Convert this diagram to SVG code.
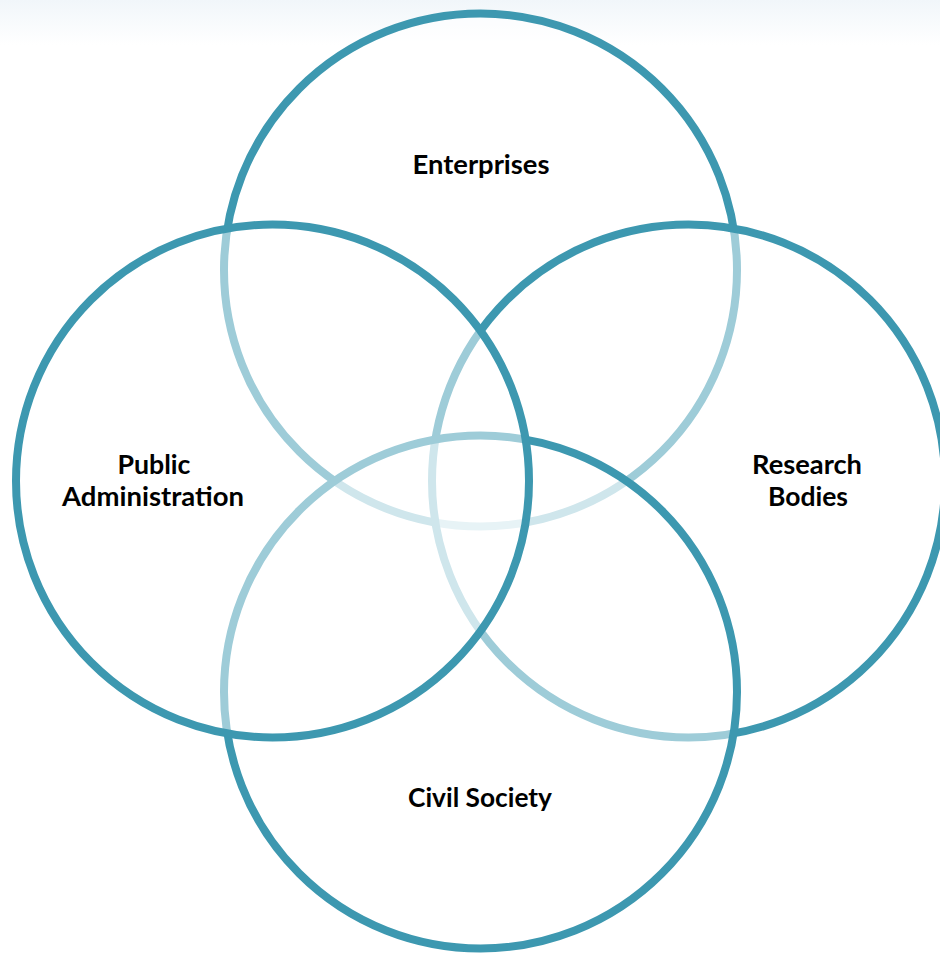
<svg xmlns="http://www.w3.org/2000/svg" width="940" height="954" viewBox="0 0 940 954">
  <defs>
    <linearGradient id="bg" x1="0" y1="0" x2="0" y2="1">
      <stop offset="0" stop-color="#f1f6fa"/>
      <stop offset="1" stop-color="#ffffff"/>
    </linearGradient>
    <style>
      .ring { fill: #ffffff; fill-opacity: 0.5; stroke: #3d98b0; stroke-width: 8; }
      .lbl { font-family: Lato, "Liberation Sans", sans-serif; font-weight: bold; font-size: 26px; fill: #000000; text-anchor: middle; }
    </style>
  </defs>
  <rect x="0" y="0" width="940" height="954" fill="#ffffff"/>
  <rect x="0" y="0" width="940" height="45" fill="url(#bg)"/>
  <g id="enterprises">
    <circle class="ring" cx="480.5" cy="270" r="256.5"/>
  </g>
  <g id="research-bodies">
    <circle class="ring" cx="688.5" cy="481" r="256.5"/>
  </g>
  <g id="civil-society">
    <circle class="ring" cx="480.5" cy="692" r="256.5"/>
  </g>
  <g id="public-administration">
    <circle class="ring" cx="272.5" cy="481" r="256.5"/>
  </g>
  <g id="labels">
    <text class="lbl" x="481" y="174" textLength="137" lengthAdjust="spacingAndGlyphs">Enterprises</text>
    <text class="lbl" x="154" y="474" textLength="73" lengthAdjust="spacingAndGlyphs">Public</text>
    <text class="lbl" x="153" y="506" textLength="182" lengthAdjust="spacingAndGlyphs">Administration</text>
    <text class="lbl" x="807" y="474" textLength="110" lengthAdjust="spacingAndGlyphs">Research</text>
    <text class="lbl" x="808" y="506" textLength="80" lengthAdjust="spacingAndGlyphs">Bodies</text>
    <text class="lbl" x="480" y="807" textLength="144" lengthAdjust="spacingAndGlyphs">Civil Society</text>
  </g>
</svg>
